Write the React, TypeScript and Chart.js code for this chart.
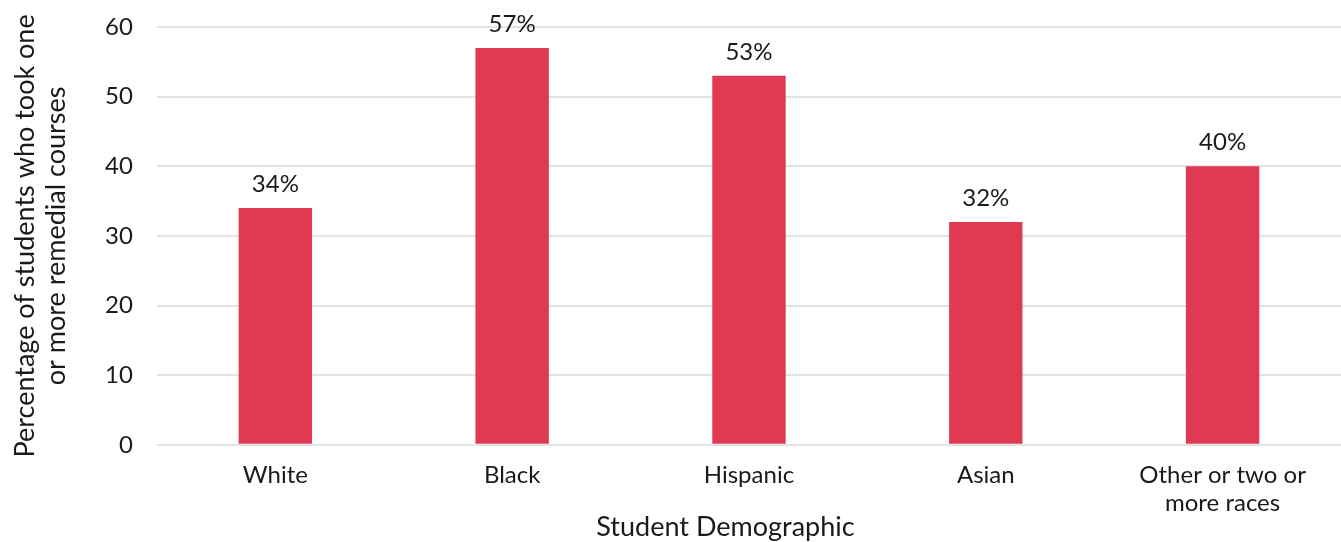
import React, { useEffect, useRef } from "react";
import { Chart, registerables } from "chart.js";

Chart.register(...registerables);

const categories: (string | string[])[] = ["White", "Black", "Hispanic", "Asian", ["Other or two or", "more races"]];
const values: number[] = [34, 57, 53, 32, 40];
const yTicks: number[] = [0, 10, 20, 30, 40, 50, 60];
const yTitle: string[] = ["Percentage of students who took one", "or more remedial courses"];
const xTitle = "Student Demographic";

const FONT = "Lato, 'Open Sans', sans-serif";
const TEXT = "#1a1a1a";
const BAR = "#E03A52";

const labelsPlugin = {
  id: "valueLabels",
  afterDatasetsDraw(chart: any) {
    const ctx = chart.ctx;
    const meta = chart.getDatasetMeta(0);
    ctx.save();
    ctx.font = `24px ${FONT}`;
    ctx.fillStyle = TEXT;
    ctx.textAlign = "center";
    ctx.textBaseline = "alphabetic";
    meta.data.forEach((el: any, i: number) => {
      ctx.fillText(values[i] + "%", el.x, el.y - 16);
    });
    ctx.restore();
  },
};

const xTitlePlugin = {
  id: "xTitle",
  afterDraw(chart: any) {
    const ctx = chart.ctx;
    const a = chart.chartArea;
    ctx.save();
    ctx.font = `27px ${FONT}`;
    ctx.fillStyle = TEXT;
    ctx.textAlign = "center";
    ctx.textBaseline = "middle";
    ctx.fillText(xTitle, (a.left - 47 + a.right) / 2, chart.height - 15);
    ctx.restore();
  },
};

export default function App() {
  const ref = useRef<HTMLCanvasElement | null>(null);
  useEffect(() => {
    document.body.style.margin = "0";
    if (!ref.current) return;
    const chart = new Chart(ref.current, {
      type: "bar",
      data: {
        labels: categories,
        datasets: [
          {
            data: values,
            backgroundColor: BAR,
            barPercentage: 0.31,
            categoryPercentage: 1,
          },
        ],
      },
      options: {
        responsive: false,
        animation: false,
        maintainAspectRatio: false,
        layout: { padding: { top: 27, bottom: 9, right: 0, left: 10 } },
        plugins: { legend: { display: false }, tooltip: { enabled: false } },
        scales: {
          x: {
            grid: { display: false, drawTicks: false },
            border: { display: false },
            ticks: {
              color: TEXT,
              font: { family: FONT, size: 24, lineHeight: 1.17 },
              padding: 16,
              maxRotation: 0,
              autoSkip: false,
            },
          },
          y: {
            min: 0,
            max: 60,
            afterBuildTicks(scale: any) {
              scale.ticks = yTicks.map((v) => ({ value: v }));
            },
            grid: {
              color: "#e3e3e3",
              lineWidth: 2,
              drawTicks: true,
              tickLength: 22,
              tickColor: "rgba(0,0,0,0)",
            },
            border: { display: false },
            ticks: {
              color: TEXT,
              font: { family: FONT, size: 24 },
              padding: 2,
            },
            title: {
              display: true,
              text: yTitle,
              color: TEXT,
              font: { family: FONT, size: 27, lineHeight: 1.15 },
              padding: { top: 0, bottom: 31 },
            },
          },
        },
      },
      plugins: [labelsPlugin, xTitlePlugin],
    });
    return () => chart.destroy();
  }, []);
  return (
    <div style={{ position: "absolute", left: 0, top: 0, width: 1341, height: 542, background: "#fff" }}>
      <canvas ref={ref} width={1341} height={542} />
    </div>
  );
}
